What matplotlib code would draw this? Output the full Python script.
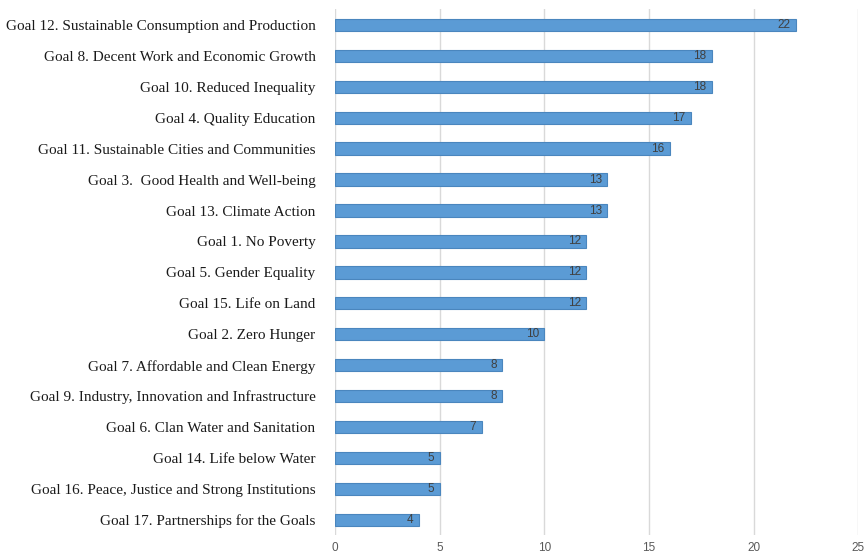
import matplotlib.pyplot as plt

goals = ['Goal 12. Sustainable Consumption and Production',
         'Goal 8. Decent Work and Economic Growth',
         'Goal 10. Reduced Inequality',
         'Goal 4. Quality Education',
         'Goal 11. Sustainable Cities and Communities',
         'Goal 3.  Good Health and Well-being',
         'Goal 13. Climate Action',
         'Goal 1. No Poverty',
         'Goal 5. Gender Equality',
         'Goal 15. Life on Land',
         'Goal 2. Zero Hunger',
         'Goal 7. Affordable and Clean Energy',
         'Goal 9. Industry, Innovation and Infrastructure',
         'Goal 6. Clan Water and Sanitation',
         'Goal 14. Life below Water',
         'Goal 16. Peace, Justice and Strong Institutions',
         'Goal 17. Partnerships for the Goals']
counts = [22, 18, 18, 17, 16, 13, 13, 12, 12, 12, 10, 8, 8, 7, 5, 5, 4]
xticks = [0, 5, 10, 15, 20, 25]

fig = plt.figure(figsize=(8.67, 5.57), dpi=100)
ax = fig.add_axes([0.3864, 0.039, 0.6036, 0.944])

pos = list(range(len(goals)))
ax.barh(pos, counts, height=0.4, color='#5B9BD5', edgecolor='#4A86BE',
        linewidth=0.8, zorder=3)

for p, c in zip(pos, counts):
    ax.text(c - 0.25, p, str(c), ha='right', va='center', fontsize=8.5,
            color='#404040', family='Liberation Sans', zorder=4)

ax.set_ylim(len(goals) - 0.5, -0.5)
ax.set_xlim(0, 25)
ax.set_yticks(pos)
ax.set_yticklabels(goals, family='Liberation Serif', fontsize=11,
                   color='#1A1A1A')
ax.set_xticks(xticks)
ax.set_xticklabels([str(t) for t in xticks], family='Liberation Sans',
                   fontsize=8.5, color='#595959')
ax.tick_params(axis='y', length=0, pad=14)
ax.tick_params(axis='x', length=0, pad=5)
ax.grid(axis='x', color='#D9D9D9', linewidth=1, zorder=0)
for s in ax.spines.values():
    s.set_visible(False)

fig.savefig('out.png', dpi=100)
